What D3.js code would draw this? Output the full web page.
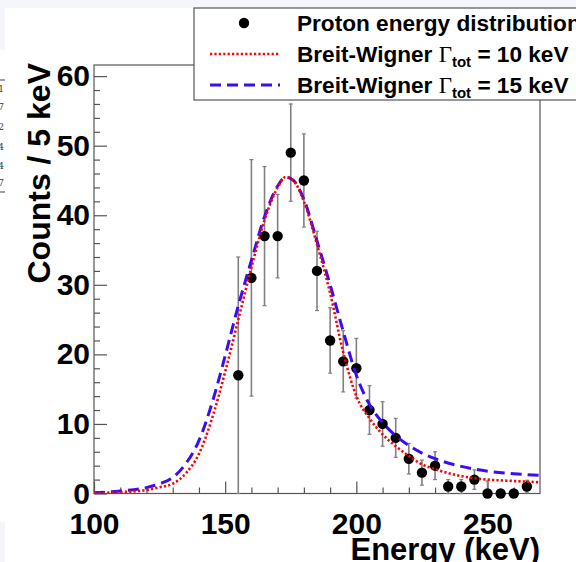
<!DOCTYPE html>
<html>
<head>
    <script type="text/javascript" src="https://d3js.org/d3.v7.min.js"></script>
</head>
<body style="margin:0">
<div id="svgcontainer"></div>
<script>
    // measured bins (keV, counts per 5 keV)
    var energies = [155, 160, 165, 170, 175, 180, 185, 190, 195, 200, 205, 210, 215, 220, 225, 230, 235, 240, 245, 250, 255, 260, 265];
    var counts   = [17, 31, 37, 37, 49, 45, 32, 22, 19, 18, 12, 10, 8, 5, 3, 4, 1, 1, 2, 0, 0, 0, 1];
    var errLow   = [17, 17, 10, 6, 7, 6.7, 5.7, 4.7, 4.4, 4.3, 3.5, 3.2, 2.8, 2.2, 1.8, 2, 1, 1, 1.4, 0, 0, 0, 0.9];
    var errHigh  = [17, 17, 10, 6, 7, 6.7, 5.7, 4.7, 4.4, 4.3, 3.5, 3.2, 2.8, 2.2, 1.8, 2, 1, 1, 1.4, 1.8, 0, 0, 0.9];

    // Breit-Wigner curves
    var fitE = [100, 110, 120, 125, 130, 135, 140, 145, 150, 155, 160, 165, 170, 173, 176, 180, 185, 190, 195, 200, 205, 210, 215, 220, 225, 230, 240, 250, 260, 270];
    var bw10 = [0.05, 0.2, 0.5, 0.9, 1.4, 2.9, 5.7, 10.8, 17.5, 25.0, 32.5, 39.3, 44.0, 45.5, 45.0, 42.0, 35.8, 28.8, 20.3, 14.0, 10.8, 8.5, 6.8, 5.4, 4.2, 3.5, 2.5, 2.0, 1.8, 1.6];
    var bw15 = [0.1, 0.35, 0.85, 1.4, 2.3, 4.3, 7.6, 13.0, 19.8, 27.0, 33.5, 39.8, 44.2, 45.5, 45.0, 42.3, 36.3, 30.0, 23.3, 17.0, 12.8, 10.2, 8.3, 6.9, 5.8, 5.0, 3.9, 3.2, 2.85, 2.6];

    var xTickLabels = [100, 150, 200, 250];
    var yTickLabels = [0, 10, 20, 30, 40, 50, 60];
    var legendLabels = ["Proton energy distribution", "10", "15"];

    var width = 576, height = 562;
    var plotL = 94, plotR = 540, plotT = 65, plotB = 493.5;
    var font = "'Liberation Sans', Arial, Helvetica, sans-serif";

    var svg = d3.select("#svgcontainer")
        .append("svg")
        .attr("width", width)
        .attr("height", height);

    // page background pieces around the figure
    svg.append("rect").attr("width", width).attr("height", height).attr("fill", "#f4f6fc");
    svg.append("rect").attr("x", 5).attr("y", 8).attr("width", width - 5).attr("height", height - 8).attr("fill", "white");
    svg.append("rect").attr("x", 0).attr("y", 50).attr("width", 6).attr("height", 472).attr("fill", "white");
    var frag = ["1", "7", "2", "4", "4", "7"];
    var fragY = [92, 110, 130, 150, 169, 186];
    frag.forEach(function (t, k) {
        svg.append("text").attr("x", 4).attr("y", fragY[k]).attr("text-anchor", "end")
            .attr("font-family", "'DejaVu Serif', serif").attr("font-size", "9px").attr("fill", "#333").text(t);
    });
    svg.append("line").attr("x1", 0).attr("x2", 5).attr("y1", 80).attr("y2", 80).attr("stroke", "#444");
    svg.append("line").attr("x1", 0).attr("x2", 5).attr("y1", 192).attr("y2", 192).attr("stroke", "#444");

    var x = d3.scaleLinear().domain([100, 270]).range([plotL, plotR]);
    var y = d3.scaleLinear().domain([0, 61.6]).range([plotB, plotT]);

    // frame
    svg.append("rect")
        .attr("x", plotL).attr("y", plotT)
        .attr("width", plotR - plotL).attr("height", plotB - plotT)
        .attr("fill", "none").attr("stroke", "#555").attr("stroke-width", 1.2);

    // axes: major ticks with labels, minor ticks without
    svg.append("g").attr("transform", "translate(0," + plotB + ")")
        .call(d3.axisBottom(x).tickValues(xTickLabels).tickSizeInner(-12).tickSizeOuter(0).tickPadding(19).tickFormat(d3.format("d")));
    svg.append("g").attr("transform", "translate(0," + plotB + ")")
        .call(d3.axisBottom(x).tickValues(d3.range(110, 270, 10).filter(function (v) { return v % 50 != 0; })).tickSizeInner(-6).tickSizeOuter(0).tickFormat(""));
    svg.append("g").attr("transform", "translate(" + plotL + ",0)")
        .call(d3.axisLeft(y).tickValues(yTickLabels).tickSizeInner(-13).tickSizeOuter(0).tickPadding(4).tickFormat(d3.format("d")));
    svg.append("g").attr("transform", "translate(" + plotL + ",0)")
        .call(d3.axisLeft(y).tickValues(d3.range(2, 61, 2).filter(function (v) { return v % 10 != 0; })).tickSizeInner(-6).tickSizeOuter(0).tickFormat(""));
    svg.selectAll(".domain").remove();
    svg.selectAll(".tick line").attr("stroke", "#555").attr("stroke-width", 1.2);
    svg.selectAll(".tick text").attr("font-family", font).attr("font-weight", "bold").attr("font-size", "30px").attr("fill", "black");

    // axis titles
    svg.append("text")
        .attr("x", plotR).attr("y", 560)
        .attr("text-anchor", "end")
        .attr("font-family", font).attr("font-weight", "bold").attr("font-size", "31px")
        .text("Energy (keV)");
    svg.append("text")
        .attr("transform", "translate(50,63) rotate(-90)")
        .attr("text-anchor", "end")
        .attr("font-family", font).attr("font-weight", "bold").attr("font-size", "32px")
        .text("Counts / 5 keV");

    svg.append("clipPath").attr("id", "clip").append("rect")
        .attr("x", plotL).attr("y", plotT).attr("width", plotR - plotL).attr("height", plotB - plotT);
    var plot = svg.append("g");

    // error bars
    energies.forEach(function (e, k) {
        if (errLow[k] == 0 && errHigh[k] == 0) return;
        var yt = y(counts[k] + errHigh[k]), yb = y(counts[k] - errLow[k]);
        plot.append("line").attr("x1", x(e)).attr("x2", x(e)).attr("y1", yt).attr("y2", yb)
            .attr("stroke", "#808080").attr("stroke-width", 1.6);
        [yt, yb].forEach(function (yy) {
            plot.append("line").attr("x1", x(e) - 2).attr("x2", x(e) + 2).attr("y1", yy).attr("y2", yy)
                .attr("stroke", "#808080").attr("stroke-width", 1.2);
        });
    });

    plot.selectAll("circle.pt")
        .data(energies)
        .enter().append("circle")
        .attr("class", "pt")
        .attr("cx", function (d) { return x(d); })
        .attr("cy", function (d, k) { return y(counts[k]); })
        .attr("r", 5.2)
        .attr("fill", "black");

    var line = d3.line()
        .x(function (d) { return x(d[0]); })
        .y(function (d) { return y(d[1]); })
        .curve(d3.curveMonotoneX);

    plot.append("path")
        .attr("d", line(fitE.map(function (e, k) { return [e, bw15[k]]; })))
        .attr("clip-path", "url(#clip)")
        .attr("fill", "none").attr("stroke", "#3d0cf5").attr("stroke-width", 3)
        .attr("stroke-dasharray", "11,6");
    plot.append("path")
        .attr("d", line(fitE.map(function (e, k) { return [e, bw10[k]]; })))
        .attr("clip-path", "url(#clip)")
        .attr("fill", "none").attr("stroke", "#ff0000").attr("stroke-width", 2.6)
        .attr("stroke-dasharray", "2.2,2.2");

    // legend
    var lg = svg.append("g");
    lg.append("rect")
        .attr("x", 194).attr("y", 8).attr("width", 420).attr("height", 92)
        .attr("fill", "white").attr("stroke", "#555").attr("stroke-width", 1.2);
    var rows = [23, 54, 85];
    lg.append("circle").attr("cx", 244).attr("cy", rows[0]).attr("r", 5.2).attr("fill", "black");
    lg.append("line").attr("x1", 210).attr("x2", 280).attr("y1", rows[1]).attr("y2", rows[1])
        .attr("stroke", "#ff0000").attr("stroke-width", 2.6).attr("stroke-dasharray", "2.2,2.2");
    lg.append("line").attr("x1", 210).attr("x2", 280).attr("y1", rows[2]).attr("y2", rows[2])
        .attr("stroke", "#3d0cf5").attr("stroke-width", 3).attr("stroke-dasharray", "11,6");

    lg.append("text").attr("x", 297).attr("y", rows[0] + 8)
        .attr("font-family", font).attr("font-weight", "bold").attr("font-size", "22.6px")
        .text(legendLabels[0]);
    [1, 2].forEach(function (k) {
        var t = lg.append("text").attr("x", 297).attr("y", rows[k] + 8)
            .attr("font-family", font).attr("font-weight", "bold").attr("font-size", "22.6px");
        t.append("tspan").text("Breit-Wigner ");
        t.append("tspan").attr("font-family", "'Liberation Serif', 'DejaVu Serif', serif").attr("font-weight", "normal").attr("font-size", "23px").text("\u0393");
        t.append("tspan").attr("font-size", "15px").attr("dy", 5).text("tot");
        t.append("tspan").attr("dy", -5).text(" = " + legendLabels[k] + " keV");
    });
</script>
</body>
</html>
